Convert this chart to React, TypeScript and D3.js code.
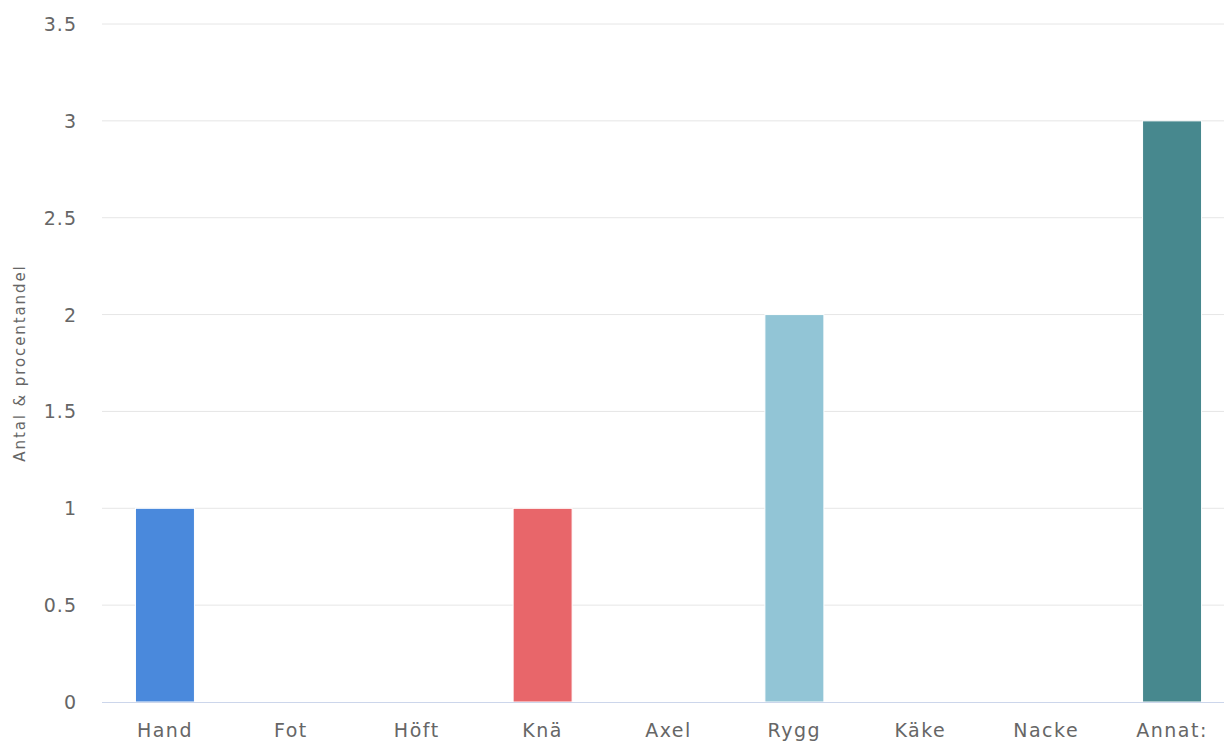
import React from "react";
import * as d3 from "d3";

const categories = ["Hand", "Fot", "Höft", "Knä", "Axel", "Rygg", "Käke", "Nacke", "Annat:"];
const values = [1, 0, 0, 1, 0, 2, 0, 0, 3];
const colors = ["#4a89dc", "#4a89dc", "#4a89dc", "#e8666a", "#4a89dc", "#92c5d6", "#4a89dc", "#4a89dc", "#47888e"];
const yTicks = [0, 0.5, 1, 1.5, 2, 2.5, 3, 3.5];
const yTitle = "Antal & procentandel";

export default function App() {
  const W = 1224, H = 742;
  const left = 102, right = 1235, top = 24, bottom = 702;
  const x = d3.scaleBand<string>().domain(categories).range([left, right]).padding(0);
  const y = d3.scaleLinear().domain([0, 3.5]).range([bottom, top]);
  const barW = 59;
  const font = "'DejaVu Sans', sans-serif";
  return (
    <svg width={W} height={H} style={{ position: "absolute", left: 0, top: 0, background: "#fff" }}>
      {yTicks.map((t) => (
        <g key={t}>
          {t !== 0 && (
            <line x1={left} x2={W} y1={y(t)} y2={y(t)} stroke="#e6e6e6" strokeWidth={1} />
          )}
          <text x={77} y={y(t) + 7} textAnchor="end" fontFamily={font} fontSize={19} letterSpacing={1} fill="#666">
            {t}
          </text>
        </g>
      ))}
      {categories.map((c, i) => {
        const v = values[i];
        if (!v) return null;
        const cx = x(c)! + x.bandwidth() / 2;
        return (
          <rect
            key={c}
            x={cx - barW / 2}
            y={y(v)}
            width={barW}
            height={y(0) - y(v)}
            fill={colors[i]}
            stroke="#fff"
            strokeWidth={1}
          />
        );
      })}
      <line x1={left} x2={W} y1={bottom + 0.5} y2={bottom + 0.5} stroke="#ccd6eb" strokeWidth={1} />
      {categories.map((c) => (
        <text
          key={c}
          x={x(c)! + x.bandwidth() / 2}
          y={737}
          textAnchor="middle"
          fontFamily={font}
          fontSize={19}
          letterSpacing={1.5}
          fill="#666"
        >
          {c}
        </text>
      ))}
      <text
        transform={`translate(25, ${(top + bottom) / 2}) rotate(-90)`}
        textAnchor="middle"
        fontFamily={font}
        fontSize={15}
        letterSpacing={1.9}
        fill="#666"
      >
        {yTitle}
      </text>
    </svg>
  );
}
